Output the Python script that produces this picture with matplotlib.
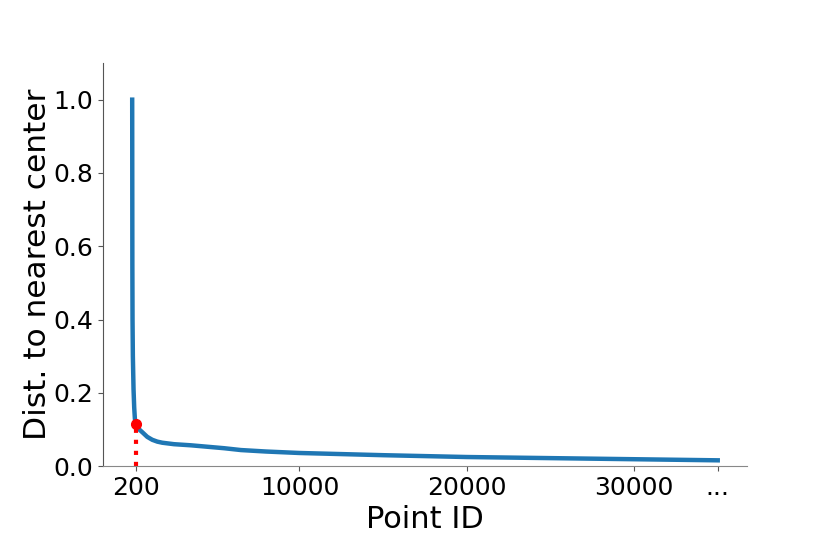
import matplotlib
matplotlib.use("Agg")
import matplotlib.pyplot as plt

# sorted distance of each point to its nearest center
point_id = [0, 10, 20, 40, 80, 120, 160, 200, 300, 450, 620, 900, 1200, 1500,
            1800, 2500, 3500, 4500, 5500, 6500, 8000, 10000, 15000, 20000,
            25000, 30000, 35000]
dist = [1.0, 0.55, 0.40, 0.30, 0.21, 0.16, 0.13, 0.115, 0.106, 0.099, 0.092,
        0.080, 0.072, 0.067, 0.064, 0.060, 0.057, 0.053, 0.049, 0.044, 0.040,
        0.036, 0.030, 0.025, 0.022, 0.019, 0.016]

cut_id = 200
cut_dist = 0.115

tick_pos = [200, 10000, 20000, 30000, 35000]
tick_labels = ["200", "10000", "20000", "30000", "..."]

fig = plt.figure(figsize=(8.3, 5.34), dpi=100)
ax = fig.add_axes([0.124, 0.127, 0.776, 0.755])

ax.plot(point_id, dist, color="#1f77b4", lw=3.2)
ax.plot([cut_id, cut_id], [0, cut_dist], color="red", ls=":", lw=3)
ax.plot(cut_id, cut_dist, "o", color="red", ms=7)

ax.set_ylim(0, 1.1)
ax.set_xticks(tick_pos)
ax.set_xticklabels(tick_labels)
ax.tick_params(labelsize=18, color="#555555")

ax.set_xlabel("Point ID", fontsize=22)
ax.set_ylabel("Dist. to nearest center", fontsize=22.5, labelpad=1)

ax.spines["top"].set_visible(False)
ax.spines["right"].set_visible(False)
ax.spines["left"].set_color("#555555")
ax.spines["bottom"].set_color("#888888")

fig.savefig("out.png", dpi=100)
